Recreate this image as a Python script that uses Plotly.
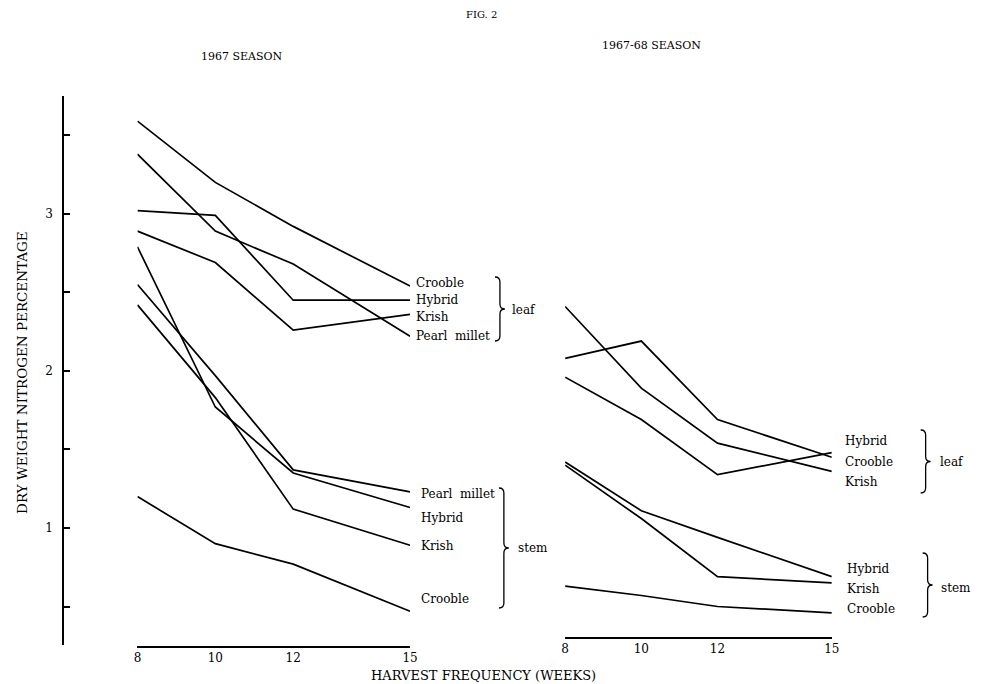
import plotly.graph_objects as go

# ---------------- data ----------------
weeks = [8, 10, 12, 15]
week_ticktext = ["8", "10", "12", "15"]

# 1967 season (left panel)
s67_leaf_crooble = [3.59, 3.20, 2.92, 2.54]
s67_leaf_hybrid = [3.02, 2.99, 2.45, 2.45]
s67_leaf_krish = [2.89, 2.69, 2.26, 2.36]
s67_leaf_pearl = [3.38, 2.89, 2.68, 2.22]
s67_stem_pearl = [2.55, 1.97, 1.37, 1.23]
s67_stem_hybrid = [2.79, 1.77, 1.35, 1.13]
s67_stem_krish = [2.42, 1.83, 1.12, 0.89]
s67_stem_crooble = [1.20, 0.90, 0.77, 0.47]

# 1967-68 season (right panel)
s6768_leaf_hybrid = [1.96, 1.69, 1.34, 1.48]
s6768_leaf_crooble = [2.08, 2.19, 1.69, 1.45]
s6768_leaf_krish = [2.41, 1.89, 1.54, 1.36]
s6768_stem_hybrid = [1.42, 1.11, 0.94, 0.69]
s6768_stem_krish = [1.40, 1.06, 0.69, 0.65]
s6768_stem_crooble = [0.63, 0.57, 0.50, 0.46]

y_tickvals = [0.5, 1, 1.5, 2, 2.5, 3, 3.5]
y_ticktext = ["", "1", "", "2", "", "3", ""]

left_series = [s67_leaf_crooble, s67_leaf_hybrid, s67_leaf_krish, s67_leaf_pearl,
               s67_stem_pearl, s67_stem_hybrid, s67_stem_krish, s67_stem_crooble]
right_series = [s6768_leaf_hybrid, s6768_leaf_crooble, s6768_leaf_krish,
                s6768_stem_hybrid, s6768_stem_krish, s6768_stem_crooble]

# ---------------- layout helpers ----------------
# the page body has an 8px margin, so the figure is drawn 8px in from the corner
OFF = 8
W, H = 985 - OFF, 684 - OFF
SERIF = "DejaVu Serif"


def px(x):
    return (x - OFF) / W


def py(y):
    return 1 - (y - OFF) / H


fig = go.Figure()
for vals in left_series:
    fig.add_trace(go.Scatter(x=weeks, y=vals, mode="lines", xaxis="x", yaxis="y",
                             line=dict(color="black", width=1.7),
                             showlegend=False, hoverinfo="skip"))
for vals in right_series:
    fig.add_trace(go.Scatter(x=weeks, y=vals, mode="lines", xaxis="x2", yaxis="y2",
                             line=dict(color="black", width=1.7),
                             showlegend=False, hoverinfo="skip"))

annotations = []


def text(t, x, y, size=12, anchor="left", angle=0):
    annotations.append(dict(text=t, x=px(x), y=py(y), xref="paper", yref="paper",
                            xanchor=anchor, yanchor="middle", showarrow=False,
                            textangle=angle,
                            font=dict(family=SERIF, size=size, color="black")))


text("FIG. 2", 483, 14, size=10, anchor="center")
text("1967 SEASON", 241, 57, size=11, anchor="center")
text("1967-68 SEASON", 655, 46, size=11, anchor="center")
text("HARVEST FREQUENCY (WEEKS)", 485, 675, size=13, anchor="center")
text("DRY WEIGHT NITROGEN PERCENTAGE", 18, 372, size=13.5, anchor="center", angle=-90)

# series labels
for t, y in [("Crooble", 283), ("Hybrid", 300), ("Krish", 317), ("Pearl  millet", 336)]:
    text(t, 415, y)
for t, y in [("Pearl  millet", 494), ("Hybrid", 518), ("Krish", 546), ("Crooble", 599)]:
    text(t, 420, y)
for t, y in [("Hybrid", 441), ("Crooble", 462), ("Krish", 482)]:
    text(t, 849, y)
for t, y in [("Hybrid", 569), ("Krish", 589), ("Crooble", 609)]:
    text(t, 851, y)
text("leaf", 512, 310)
text("stem", 518, 548)
text("leaf", 946, 462)
text("stem", 947, 588)


def brace(x, y0, y1, w=5):
    ym = (y0 + y1) / 2
    pts = [("M", [(x - w, y0)]),
           ("Q", [(x, y0), (x, y0 + w)]),
           ("L", [(x, ym - w)]),
           ("Q", [(x, ym), (x + w, ym)]),
           ("Q", [(x, ym), (x, ym + w)]),
           ("L", [(x, y1 - w)]),
           ("Q", [(x, y1), (x - w, y1)])]
    s = ""
    for cmd, ps in pts:
        s += cmd + " " + " ".join(f"{px(a):.5f},{py(b):.5f}" for a, b in ps) + " "
    return dict(type="path", path=s.strip(), xref="paper", yref="paper",
                line=dict(color="black", width=1.3))


shapes = [brace(502, 277, 341), brace(506, 488, 608),
          brace(933, 430, 493), brace(935, 553, 617)]

axis_font = dict(family=SERIF, size=12, color="black")
fig.update_layout(
    width=W, height=H,
    margin=dict(l=0, r=0, t=0, b=0),
    paper_bgcolor="white", plot_bgcolor="white",
    showlegend=False,
    annotations=annotations,
    shapes=shapes,
    xaxis=dict(domain=[px(135), px(411)], range=[8, 15], anchor="free", position=py(647),
               showline=True, linecolor="black", linewidth=2, showgrid=False, zeroline=False,
               tickvals=weeks, ticktext=week_ticktext, ticks="", tickfont=axis_font),
    yaxis=dict(domain=[py(645), py(96)], range=[0.255, 3.75], anchor="free", position=px(60),
               showline=True, linecolor="black", linewidth=2, showgrid=False, zeroline=False,
               tickvals=y_tickvals, ticktext=y_ticktext, ticks="inside", ticklen=6,
               tickcolor="black", tickwidth=1.5, tickfont=axis_font, ticklabelstandoff=7),
    xaxis2=dict(domain=[px(568), px(838)], range=[8, 15], anchor="free", position=py(638),
                showline=True, linecolor="black", linewidth=2, showgrid=False, zeroline=False,
                tickvals=weeks, ticktext=week_ticktext, ticks="", tickfont=axis_font),
    yaxis2=dict(domain=[py(645), py(96)], range=[0.255, 3.75], anchor="x2", visible=False),
)

fig.write_html("out.html")
